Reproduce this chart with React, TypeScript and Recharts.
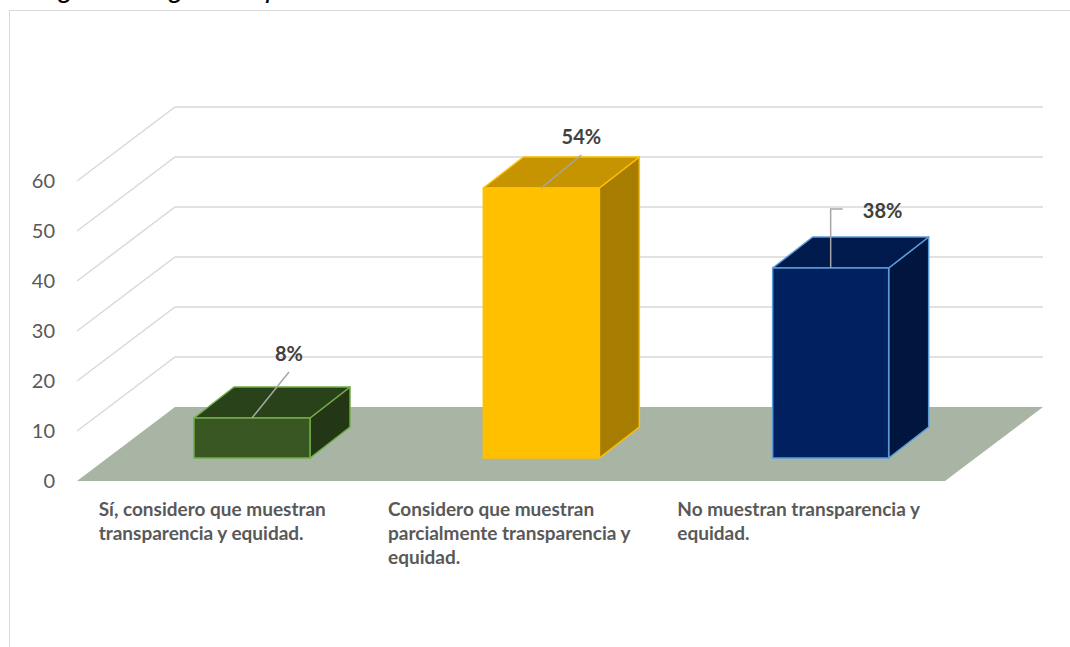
import React from 'react';
import { BarChart, Bar, XAxis, YAxis, CartesianGrid, LabelList } from 'recharts';

// categories (one line per entry, as wrapped in the picture)
const CATEGORY_LINES: string[][] = [
  ['Sí, considero que muestran', 'transparencia y equidad.'],
  ['Considero que muestran', 'parcialmente transparencia y', 'equidad.'],
  ['No muestran transparencia y', 'equidad.'],
];
const CATEGORIES = CATEGORY_LINES.map((l) => l.join(' '));
const VALUES = [8, 54, 38];
const Y_TICKS = [0, 10, 20, 30, 40, 50, 60];

const data = CATEGORIES.map((name, i) => ({ name, value: VALUES[i] }));

// look of each 3d column
const PALETTE = [
  { front: '#385723', top: '#2A4219', side: '#233717', stroke: '#70AD47' },
  { front: '#FFC000', top: '#C59400', side: '#A67D00', stroke: '#FFC000' },
  { front: '#002060', top: '#001A4D', side: '#00163F', stroke: '#5B9BD5' },
];

// 3d geometry (pixels)
const W = 1070;
const H = 647;
const MARGIN = { top: 181, right: 125, bottom: 106, left: 37 };
const PLOT_BOTTOM = H - MARGIN.bottom - 60;
const WALL_DX = 98;
const WALL_DY = 74;
const SHIFT_X = 30;
const SHIFT_Y = 23;
const BAR_DX = 40;
const BAR_DY = 31;
const LABEL_OFFSETS = [
  { dx: 37, dy: -64, leader: 'bottom' },
  { dx: 40, dy: -51, leader: 'bottom' },
  { dx: 52, dy: -57, leader: 'side' },
];

const GridLine = (props: any) => {
  const { x1, x2, y1 } = props;
  if (Math.abs(y1 - PLOT_BOTTOM) < 1) {
    const pts = `${x1},${y1} ${x1 + WALL_DX},${y1 - WALL_DY} ${x2 + WALL_DX},${y1 - WALL_DY} ${x2},${y1}`;
    return <polygon key={`floor`} points={pts} fill="#A9B5A4" />;
  }
  const pts = `${x1},${y1} ${x1 + WALL_DX},${y1 - WALL_DY} ${x2 + WALL_DX},${y1 - WALL_DY}`;
  return <polyline key={`g-${y1}`} points={pts} fill="none" stroke="#D9D9D9" strokeWidth={1.5} />;
};

const Bar3D = (props: any) => {
  const { x, y, width, height, index } = props;
  const c = PALETTE[index % PALETTE.length];
  const fx = x + SHIFT_X;
  const fy = y - SHIFT_Y;
  const fb = fy + height;
  const top = `${fx},${fy} ${fx + BAR_DX},${fy - BAR_DY} ${fx + width + BAR_DX},${fy - BAR_DY} ${fx + width},${fy}`;
  const side = `${fx + width},${fy} ${fx + width + BAR_DX},${fy - BAR_DY} ${fx + width + BAR_DX},${fb - BAR_DY} ${fx + width},${fb}`;
  return (
    <g>
      <polygon points={side} fill={c.side} stroke={c.stroke} strokeWidth={1.5} strokeLinejoin="round" />
      <polygon points={top} fill={c.top} stroke={c.stroke} strokeWidth={1.5} strokeLinejoin="round" />
      <rect x={fx} y={fy} width={width} height={height} fill={c.front} stroke={c.stroke} strokeWidth={1.5} />
    </g>
  );
};

const renderLabel = (props: any) => {
  const { x, y, width, value } = props;
  const index = props.index ?? VALUES.indexOf(value);
  const o = LABEL_OFFSETS[index];
  const ax = x + width / 2 + SHIFT_X;
  const ay = y - SHIFT_Y;
  const lx = ax + o.dx;
  const ly = ay + o.dy;
  const leader =
    o.leader === 'side'
      ? `${lx - 40},${ly - 2} ${ax},${ly - 2} ${ax},${ay}`
      : `${lx},${ly + 18} ${ax},${ay}`;
  return (
    <g>
      <polyline points={leader} fill="none" stroke="#A6A6A6" strokeWidth={1.5} />
      <text x={lx} y={ly} dy="0.35em" textAnchor="middle" fontFamily="Lato" fontWeight={700} fontSize={20} fill="#404040">
        {`${value}%`}
      </text>
    </g>
  );
};

const YTick = (props: any) => {
  const { x, y, payload } = props;
  return (
    <text x={x} y={y} dy="0.35em" textAnchor="end" fontFamily="Lato" fontSize={20} fill="#595959">
      {payload.value}
    </text>
  );
};

const XTick = (props: any) => {
  const { x, y, index } = props;
  const lines = CATEGORY_LINES[index] ?? [];
  return (
    <foreignObject x={x - 123} y={y + 8} width={300} height={90}>
      <div
        style={{
          textAlign: 'left',
          fontFamily: 'Lato',
          fontWeight: 700,
          fontSize: 19,
          lineHeight: '24px',
          color: '#595959',
          whiteSpace: 'nowrap',
        }}
      >
        {lines.map((l, i) => (
          <div key={i}>{l}</div>
        ))}
      </div>
    </foreignObject>
  );
};

export default function App() {
  return (
    <div style={{ position: 'absolute', left: 0, top: 0, width: W, height: H, overflow: 'hidden', background: '#fff' }}>
      <div
        style={{
          position: 'absolute',
          left: 5,
          top: -26,
          fontFamily: 'Liberation Sans',
          fontStyle: 'italic',
          fontSize: 28,
          lineHeight: '28px',
          color: '#000',
          whiteSpace: 'nowrap',
        }}
      >
        categoría de gestión pública
      </div>
      <div
        style={{
          position: 'absolute',
          left: 9,
          top: 10,
          width: 1200,
          height: 800,
          border: '1.5px solid #D9D9D9',
        }}
      />
      <div style={{ position: 'absolute', left: 0, top: 0 }}>
        <BarChart width={W} height={H} data={data} margin={MARGIN}>
          <CartesianGrid vertical={false} horizontal={GridLine as any} />
          <XAxis dataKey="name" axisLine={false} tickLine={false} height={60} tick={<XTick />} interval={0} />
          <YAxis
            domain={[0, 60]}
            ticks={Y_TICKS}
            axisLine={false}
            tickLine={false}
            width={40}
            tickMargin={16}
            tick={<YTick />}
          />
          <Bar dataKey="value" barSize={116} shape={Bar3D} isAnimationActive={false}>
            <LabelList dataKey="value" content={renderLabel} />
          </Bar>
        </BarChart>
      </div>
    </div>
  );
}
